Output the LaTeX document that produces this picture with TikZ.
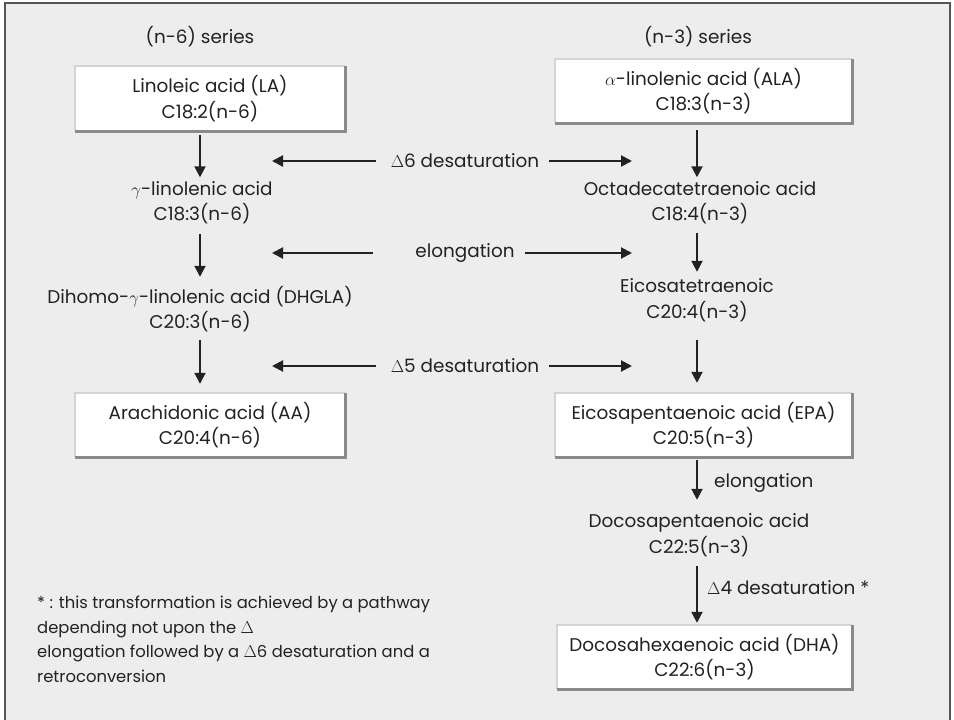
\documentclass[tikz,border=0pt]{standalone}
\usepackage{fontspec}
\setmainfont{Poppins}
\usetikzlibrary{arrows.meta}
\definecolor{bgc}{HTML}{EDEDED}
\definecolor{framec}{HTML}{555555}
\definecolor{litec}{HTML}{D4D4D4}
\definecolor{darkc}{HTML}{8A8A8A}
\definecolor{txtc}{HTML}{222222}
\tikzset{
  x=1pt, y=-1pt,
  every node/.style={font=\fontsize{18.4}{25.5}\selectfont, text=txtc},
  boxnode/.style={fill=white, inner sep=0, minimum width=297, minimum height=64, align=center},
  cmpd/.style={inner sep=0, minimum height=50, align=center},
  lbl/.style={inner sep=0, align=center},
  arr/.style={line width=2pt, draw=txtc, -{Triangle[width=11pt,length=11pt]}},
  litel/.style={draw=litec, line width=2pt},
  darkl/.style={draw=darkc, line width=3pt},
}
\newcommand{\shbox}[1]{%
  \draw[litel] (#1.south west) -- (#1.north west) -- (#1.north east);
  \draw[darkl] (#1.north east) -- (#1.south east) -- (#1.south west);
}
\begin{document}
\begin{tikzpicture}
\useasboundingbox (0,0) rectangle (954,720);
\fill[white] (0,0) rectangle (954,720);
\fill[bgc] (5,3) rectangle (950,720);
\draw[framec, line width=1.5pt] (5,721) -- (5,3) -- (950,3) -- (950,721);

\coordinate (cL) at (200,0);
\coordinate (cR) at (697,0);

\node[lbl] (h6) at (200,37) {(n-6) series};
\node[lbl] (h3) at (698,37) {(n-3) series};

% boxes
\node[boxnode, minimum width=270, minimum height=65] (la) at (210,98.5) {Linoleic acid (LA)\\C18:2(n-6)};
\node[boxnode] (ala) at (703.5,91) {$\alpha$-linolenic acid (ALA)\\C18:3(n-3)};
\node[boxnode, minimum width=270] (aa) at (210,425) {Arachidonic acid (AA)\\C20:4(n-6)};
\node[boxnode] (epa) at (703.5,425) {Eicosapentaenoic acid (EPA)\\C20:5(n-3)};
\node[boxnode, minimum width=295] (dha) at (704.5,657) {Docosahexaenoic acid (DHA)\\C22:6(n-3)};
\shbox{la}\shbox{ala}\shbox{aa}\shbox{epa}\shbox{dha}

% intermediates
\node[cmpd] (gla) at (202,202.5) {$\gamma$-linolenic acid\\C18:3(n-6)};
\node[cmpd] (dhgla) at (200,309) {Dihomo-$\gamma$-linolenic acid (DHGLA)\\C20:3(n-6)};
\node[cmpd] (octa) at (700,202.5) {Octadecatetraenoic acid\\C18:4(n-3)};
\node[cmpd] (eico) at (697,300) {Eicosatetraenoic\\C20:4(n-3)};
\node[cmpd] (dpa) at (699,535) {Docosapentaenoic acid\\C22:5(n-3)};

% vertical arrows
\draw[arr, shorten <=4pt] (la.south -| cL) -- (gla.north -| cL);
\draw[arr, shorten <=6.5pt, shorten >=7pt] (gla.south -| cL) -- (dhgla.north -| cL);
\draw[arr, shorten <=6pt, shorten >=9pt] (dhgla.south -| cL) -- (aa.north -| cL);
\draw[arr, shorten <=7pt] (ala.south -| cR) -- (octa.north -| cR);
\draw[arr, shorten <=5.5pt, shorten >=3pt] (octa.south -| cR) -- (eico.north -| cR);
\draw[arr, shorten <=15pt, shorten >=10pt] (eico.south -| cR) -- (epa.north -| cR);
\draw[arr, shorten <=3pt, shorten >=10pt] (epa.south -| cR) -- (dpa.north -| cR);
\draw[arr, shorten <=6pt, shorten >=2pt] (dpa.south -| cR) -- (dha.north -| cR);

% horizontal rows
\node[lbl] (d6) at (465,161) {$\Delta$6 desaturation};
\coordinate (d6l) at (272,161); \coordinate (d6r) at (632,161);
\draw[arr, shorten <=15pt] (d6.west) -- (d6l);
\draw[arr, shorten <=10pt] (d6.east) -- (d6r);

\node[lbl] (el) at (465,253) {elongation};
\coordinate (ell) at (272,253); \coordinate (elr) at (632,253);
\draw[arr, shorten <=42pt] (el.west) -- (ell);
\draw[arr, shorten <=10pt] (el.east) -- (elr);

\node[lbl] (d5) at (465,366) {$\Delta$5 desaturation};
\coordinate (d5l) at (272,366); \coordinate (d5r) at (632,366);
\draw[arr, shorten <=15pt] (d5.west) -- (d5l);
\draw[arr, shorten <=10pt] (d5.east) -- (d5r);

% side labels
\node[lbl, anchor=west] (el2) at (714,483) {elongation};
\node[lbl, anchor=west] (d4) at (707,588) {$\Delta$4 desaturation *};

% footnote
\node[lbl, anchor=north west, align=left, font=\fontsize{16.4}{24.5}\selectfont] (fn) at (37,596) {* : this transformation is achieved by a pathway\\depending not upon the $\Delta$\\elongation followed by a $\Delta$6 desaturation and a\\retroconversion};
\end{tikzpicture}
\end{document}
